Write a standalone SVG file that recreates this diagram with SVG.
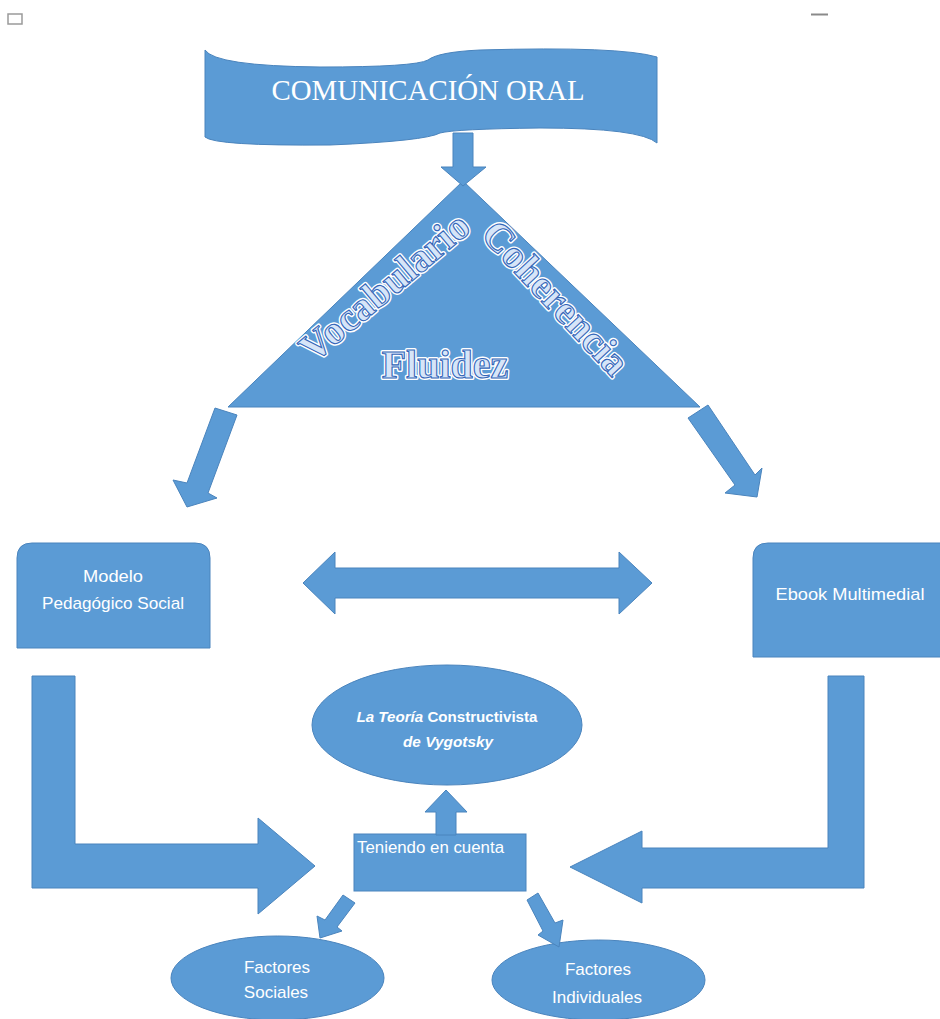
<svg xmlns="http://www.w3.org/2000/svg" width="940" height="1019" viewBox="0 0 940 1019">
<defs>
<style>
.sh{fill:#5b9bd5;stroke:#4a84bd;stroke-width:1}
.t{font-family:"Liberation Sans",Arial,sans-serif;fill:#ffffff;text-anchor:middle}
.wo{font-family:"Liberation Serif","Times New Roman",serif;font-weight:bold;font-size:40px;text-anchor:middle;fill:none;stroke:#ffffff;stroke-width:4;stroke-linejoin:round}
.wi{font-family:"Liberation Serif","Times New Roman",serif;font-weight:bold;font-size:40px;text-anchor:middle;fill:#d6e5f8;stroke:#3466b8;stroke-width:1.1}
</style>
</defs>
<rect width="940" height="1019" fill="#ffffff"/>
<rect x="8" y="14" width="14" height="10" fill="#ffffff" stroke="#9a9a9a" stroke-width="1.5"/>
<line x1="811" y1="14.5" x2="828" y2="14.5" stroke="#8a8a8a" stroke-width="2"/>

<g id="banner">
<path class="sh" d="M205,50 Q215,66 320,67 Q415,67 428,60 Q438,52 480,50 Q620,46 657,57 L657,143 Q640,128 540,128 Q455,129 440,133 Q425,141 330,145 Q215,146 205,137 Z"/>
<text x="428" y="100" font-family="Liberation Serif, Times New Roman, serif" font-size="29" fill="#ffffff" text-anchor="middle" textLength="313" lengthAdjust="spacingAndGlyphs">COMUNICACIÓN ORAL</text>
</g>

<g id="triangle">
<polygon class="sh" points="463,181 228,407 700,407"/>
<text class="wo" transform="translate(393,297) rotate(-40)">Vocabulario</text>
<text class="wi" transform="translate(393,297) rotate(-40)">Vocabulario</text>
<text class="wo" transform="translate(546,307) rotate(47)">Coherencia</text>
<text class="wi" transform="translate(546,307) rotate(47)">Coherencia</text>
<text class="wo" x="445" y="378">Fluidez</text>
<text class="wi" x="445" y="378">Fluidez</text>
</g>

<g id="modelo">
<path class="sh" d="M17,648 L17,558 Q17,543 32,543 L195,543 Q210,543 210,558 L210,648 Z"/>
<text class="t" x="113" y="582" font-size="17" textLength="60" lengthAdjust="spacingAndGlyphs">Modelo</text>
<text class="t" x="113" y="609" font-size="17" textLength="142" lengthAdjust="spacingAndGlyphs">Pedagógico  Social</text>
</g>

<g id="ebook">
<path class="sh" d="M753,657 L753,558 Q753,543 768,543 L945,543 L945,657 Z"/>
<text class="t" x="850" y="600" font-size="17" textLength="149" lengthAdjust="spacingAndGlyphs">Ebook  Multimedial</text>
</g>

<g id="teoria">
<ellipse class="sh" cx="447" cy="725" rx="135" ry="60"/>
<text class="t" x="447" y="722" font-size="14" font-weight="bold" textLength="181" lengthAdjust="spacingAndGlyphs"><tspan font-style="italic">La Teoría</tspan>  Constructivista</text>
<text class="t" x="448" y="747" font-size="14" font-weight="bold" font-style="italic" textLength="90" lengthAdjust="spacingAndGlyphs">de Vygotsky</text>
</g>

<g id="teniendo">
<rect class="sh" x="354" y="834" width="172" height="57"/>
<text class="t" x="357" y="853" font-size="16" style="text-anchor:start" textLength="147" lengthAdjust="spacingAndGlyphs">Teniendo en cuenta</text>
</g>

<g id="sociales">
<ellipse class="sh" cx="277.5" cy="978" rx="106.5" ry="42"/>
<text class="t" x="277" y="973" font-size="17">Factores</text>
<text class="t" x="276" y="998" font-size="17">Sociales</text>
</g>

<g id="individuales">
<ellipse class="sh" cx="598.5" cy="980" rx="106.5" ry="40"/>
<text class="t" x="598" y="975" font-size="17">Factores</text>
<text class="t" x="597" y="1003" font-size="17">Individuales</text>
</g>

<g id="connectors">
<polygon class="sh" points="453,133 473,133 473,167 486,167 463,186 441,167 453,167"/>
<polygon class="sh" points="215,408 237,415 208,493 217,498 187,507 173,480 187,483"/>
<polygon class="sh" points="688,418 708,405 755,475 762,468 757,497 725,493 735,485"/>
<polygon class="sh" points="303,583 335,552 335,568 619,568 619,552 652,583 619,614 619,598 335,598 335,614"/>
<polygon class="sh" points="32,676 75,676 75,844 258,844 258,818 315,866 258,914 258,888 32,888"/>
<polygon class="sh" points="828,676 864,676 864,888 642,888 642,903 570,867 642,831 642,848 828,848"/>
<polygon class="sh" points="436,835 436,812 425,812 446,790 467,812 456,812 456,835"/>
<polygon class="sh" points="343,895 355,903 337,927 342,931 320,938 317,916 325,920"/>
<polygon class="sh" points="527,900 543,931 538,935 559,947 563,920 555,923 538,893"/>
</g>
</svg>
